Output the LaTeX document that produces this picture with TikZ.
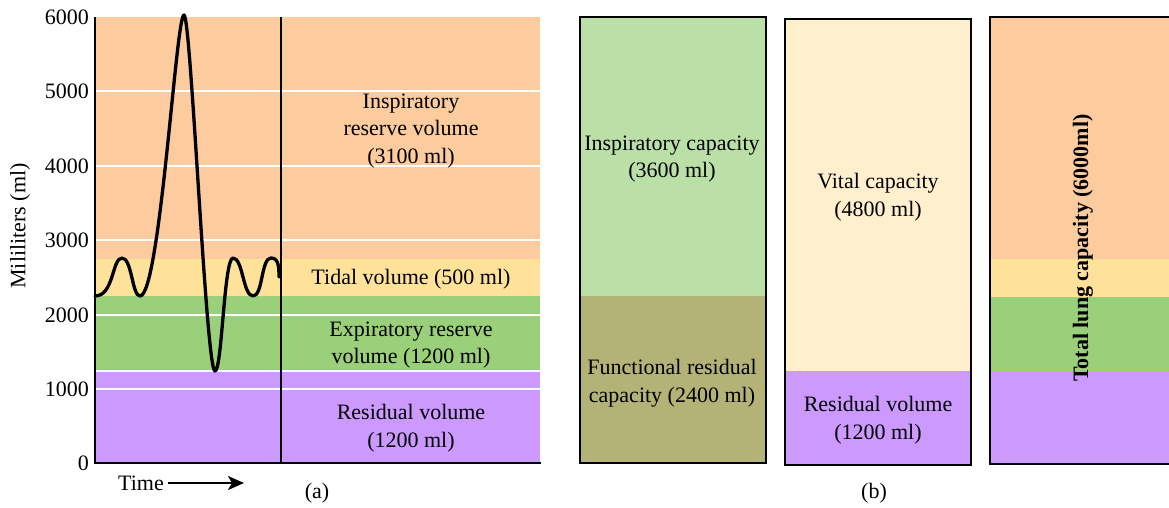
\documentclass[tikz,border=0pt]{standalone}
\usepackage{fontspec}
\setmainfont{Liberation Serif}
\usetikzlibrary{arrows.meta}
\definecolor{irvorange}{HTML}{FCCC9E}
\definecolor{tvyellow}{HTML}{FFE299}
\definecolor{ervgreen}{HTML}{9BD07A}
\definecolor{rvpurple}{HTML}{CC99FF}
\definecolor{icgreen}{HTML}{BAE0A8}
\definecolor{frcolive}{HTML}{B3B378}
\definecolor{vccream}{HTML}{FFEFCC}
\tikzset{
  lbl/.style={font=\fontsize{22}{27.5}\selectfont, align=center, inner sep=0pt},
  tick/.style={font=\fontsize{22}{26}\selectfont, anchor=east, inner sep=0pt},
  gridline/.style={white, line width=1.6pt},
  axisline/.style={black, line width=2pt},
  panelframe/.style={draw=black, line width=2pt},
  breath/.style={black, line width=3.3pt, line cap=round, line join=round},
}
\begin{document}
\begin{tikzpicture}[x=1pt, y=-1pt]
\useasboundingbox (0,0) rectangle (1169,507);

% ---------- (a) spirogram ----------
\fill[irvorange] (95,17) rectangle (540,259);
\fill[tvyellow]  (95,259) rectangle (540,296);
\fill[ervgreen]  (95,296) rectangle (540,371);
\fill[rvpurple]  (95,371) rectangle (540,463);
\foreach \yy in {91,166,240,315,371,389}
  \draw[gridline] (95,\yy) -- (540,\yy);
\draw[black, line width=1.4pt] (281,17) -- (281,463);

% breathing trace
\draw[breath] (95,296) .. controls (114,296) and (112,258) .. (122,258)
  .. controls (132,258) and (132,296) .. (140,296)
  .. controls (160,296) and (176,15) .. (184,15)
  .. controls (191,15) and (206,371) .. (215,371)
  .. controls (222,371) and (224,258) .. (233,258)
  .. controls (243,258) and (243,296) .. (253,296)
  .. controls (263,296) and (261,258) .. (271,258)
  .. controls (278,258) and (279,265) .. (279,277);

\draw[axisline] (95,17) -- (95,463) -- (541,463);

% tick labels
\node[tick] (y6) at (89,17)  {6000};
\node[tick] (y5) at (89,91)  {5000};
\node[tick] (y4) at (89,166) {4000};
\node[tick] (y3) at (89,240) {3000};
\node[tick] (y2) at (89,315) {2000};
\node[tick] (y1) at (89,389) {1000};
\node[tick] (y0) at (89,463) {0};
\node[lbl, rotate=90] (ylab) at (20,226) {Mililiters (ml)};

% volume labels
\node[lbl] (irv) at (411,131) {Inspiratory\\reserve volume\\(3100 ml)};
\node[lbl] (tv)  at (411,279) {Tidal volume (500 ml)};
\node[lbl] (erv) at (411,345) {Expiratory reserve\\volume (1200 ml)};
\node[lbl] (rv)  at (411,428) {Residual volume\\(1200 ml)};

% time axis
\node[lbl, anchor=east] (time) at (164,483) {Time};
\coordinate (tstart) at (168,483);
\coordinate (tend) at (244,483);
\draw[line width=2pt, -{Stealth[length=16pt,width=14pt,inset=4pt]}] (tstart) -- (tend);
\node[lbl] (capa) at (317,493) {(a)};

% ---------- (b) capacities ----------
% inspiratory capacity / functional residual capacity
\fill[icgreen]   (580,17) rectangle (766,296);
\fill[frcolive]  (580,296) rectangle (766,463);
\draw[panelframe] (580,17) rectangle (766,463);
\node[lbl] (ic)  at (672,159) {Inspiratory capacity\\(3600 ml)};
\node[lbl] (frc) at (672,383) {Functional residual\\capacity (2400 ml)};

% vital capacity / residual volume
\fill[vccream]  (785,19) rectangle (971,371);
\fill[rvpurple] (785,371) rectangle (971,465);
\draw[panelframe] (785,19) rectangle (971,465);
\node[lbl] (vc)  at (878,197) {Vital capacity\\(4800 ml)};
\node[lbl] (rv2) at (878,420) {Residual volume\\(1200 ml)};

% total lung capacity
\fill[irvorange] (990,17) rectangle (1175,259);
\fill[tvyellow]  (990,259) rectangle (1175,297);
\fill[ervgreen]  (990,297) rectangle (1175,371);
\fill[rvpurple]  (990,371) rectangle (1175,464);
\draw[panelframe] (990,17) rectangle (1180,464);
\node[lbl, rotate=90, font=\fontsize{22}{26}\selectfont\bfseries] (tlc) at (1083,248) {Total lung capacity (6000ml)};

\node[lbl] (capb) at (874,493) {(b)};
\end{tikzpicture}
\end{document}
